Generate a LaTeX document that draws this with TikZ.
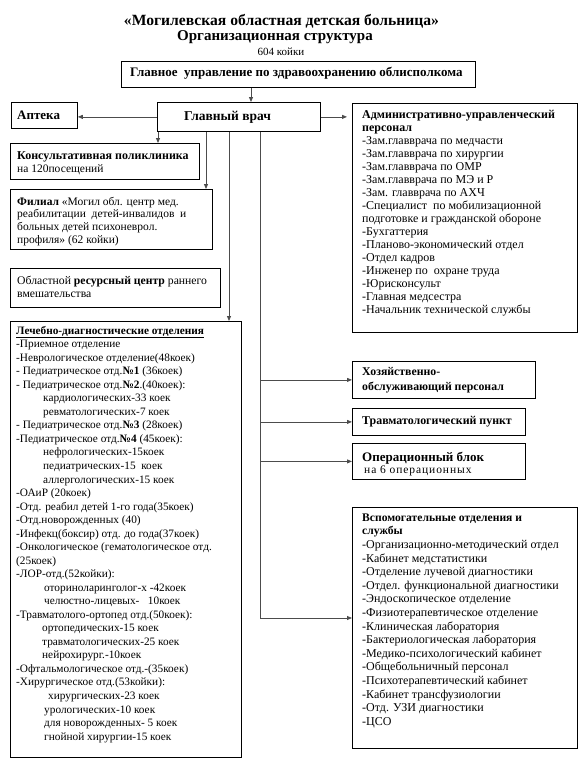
\documentclass[tikz,border=0pt]{standalone}
\usepackage{fontspec}
\setmainfont{Liberation Serif}
\usetikzlibrary{arrows.meta}
\begin{document}
\begin{tikzpicture}[x=1pt,y=-1pt,
  box/.style={draw=black, line width=0.8pt, inner sep=0pt, anchor=north west},
  txt/.style={inner sep=0pt, anchor=north west, align=left},
  one/.style={inner sep=0pt, anchor=base west},
  conn/.style={draw=black!70, line width=0.8pt},
  arr/.style={conn, -{Triangle[length=5pt,width=4pt]}},
]
\useasboundingbox (0,0) rectangle (588,758);
% titles
\node[inner sep=0pt, anchor=base, font=\fontsize{15.6}{17}\selectfont\bfseries] (t1) at (281.5,25) {«Могилевская областная детская больница»};
\node[inner sep=0pt, anchor=base, font=\fontsize{15}{17}\selectfont\bfseries] (t2) at (275,40) {Организационная структура};
\node[inner sep=0pt, anchor=base, font=\fontsize{11}{13}\selectfont] (t3) at (281,55) {604 койки};
% boxes
\node[box, minimum width=354pt, minimum height=26pt] (gu) at (121,61) {};
\node[box, minimum width=163pt, minimum height=29pt] (gv) at (157,102) {};
\node[box, minimum width=66pt, minimum height=26pt] (apt) at (11,102) {};
\node[box, minimum width=225pt, minimum height=229pt] (adm) at (352,103) {};
\node[box, minimum width=189pt, minimum height=36pt] (kons) at (10,143) {};
\node[box, minimum width=202pt, minimum height=60pt] (fil) at (10,189) {};
\node[box, minimum width=210pt, minimum height=39pt] (obl) at (10,268) {};
\node[box, minimum width=231pt, minimum height=436pt] (ldo) at (10,321) {};
\node[box, minimum width=183pt, minimum height=37pt] (hoz) at (352,361) {};
\node[box, minimum width=173pt, minimum height=27pt] (trav) at (352,408) {};
\node[box, minimum width=173pt, minimum height=36pt] (oper) at (352,443) {};
\node[box, minimum width=225pt, minimum height=241pt] (vsp) at (352,507) {};
% texts
\node[one, font=\fontsize{13}{14}\selectfont\bfseries] (guT) at (130,76) {Главное\ \ управление по здравоохранению облисполкома};
\node[one, font=\fontsize{13.5}{14}\selectfont\bfseries] (gvT) at (184,120) {Главный врач};
\node[one, font=\fontsize{13}{14}\selectfont\bfseries] (aptT) at (17,119) {Аптека};
\node[txt, font=\fontsize{12}{13}\selectfont] (admT) at (362,108.9) {\strut\textbf{Административно-управленческий}\\
\textbf{персонал}\\
-Зам.главврача по медчасти\\
-Зам.главврача по хирургии\\
-Зам.главврача по ОМР\\
-Зам.главврача по МЭ и Р\\
-Зам. главврача по АХЧ\\
-Специалист\ \ по мобилизационной\\
подготовке и гражданской обороне\\
-Бухгаттерия\\
-Планово-экономический отдел\\
-Отдел кадров\\
-Инженер по\ \ охране труда\\
-Юрисконсульт\\
-Главная медсестра\\
-Начальник технической службы};
\node[txt, font=\fontsize{11.5}{13}\selectfont] (konsT) at (17,149.9) {\strut{\fontsize{12}{13}\selectfont\bfseries Консультативная поликлиника}\\
на 120посещений};
\node[txt, font=\fontsize{11.5}{12.7}\selectfont] (filT) at (17,196.1) {\strut\textbf{Филиал} «Могил обл. центр мед.\\
реабилитации\ \ детей-инвалидов\ \ и\\
больных детей психоневрол.\\
профиля» (62 койки)};
\node[txt, font=\fontsize{11.7}{13}\selectfont] (oblT) at (17,274.9) {\strut Областной \textbf{ресурсный центр} раннего\\
вмешательства};
\node[txt, font=\fontsize{11.3}{13.53}\selectfont] (ldoT) at (16,324.5) {\strut\underline{\textbf{Лечебно-диагностические отделения}}\\
-Приемное отделение\\
-Неврологическое отделение(48коек)\\
- Педиатрическое отд.\textbf{№1} (36коек)\\
- Педиатрическое отд.\textbf{№2}.(40коек):\\
\hspace*{27pt}кардиологических-33 коек\\
\hspace*{27pt}ревматологических-7 коек\\
- Педиатрическое отд.\textbf{№3} (28коек)\\
-Педиатрическое отд.\textbf{№4} (45коек):\\
\hspace*{27pt}нефрологических-15коек\\
\hspace*{27pt}педиатрических-15\ \ коек\\
\hspace*{27pt}аллергологических-15 коек\\
-ОАиР (20коек)\\
-Отд. реабил детей 1-го года(35коек)\\
-Отд.новорожденных (40)\\
-Инфекц(боксир) отд. до года(37коек)\\
-Онкологическое (гематологическое отд.\\
(25коек)\\
-ЛОР-отд.(52койки):\\
\hspace*{28pt}оториноларинголог-х -42коек\\
\hspace*{28pt}челюстно-лицевых-\ \ \ 10коек\\
-Травматолого-ортопед отд.(50коек):\\
\hspace*{26pt}ортопедических-15 коек\\
\hspace*{26pt}травматологических-25 коек\\
\hspace*{26pt}нейрохирург.-10коек\\
-Офтальмологическое отд.-(35коек)\\
-Хирургическое отд.(53койки):\\
\hspace*{32pt}хирургических-23 коек\\
\hspace*{28pt}урологических-10 коек\\
\hspace*{28pt}для новорожденных- 5 коек\\
\hspace*{28pt}гнойной хирургии-15 коек};
\node[txt, font=\fontsize{11.8}{15}\selectfont\bfseries] (hozT) at (362,364.5) {\strut Хозяйственно-\\
обслуживающий персонал};
\node[one, font=\fontsize{11.9}{13}\selectfont\bfseries] (travT) at (362,424.5) {Травматологический пункт};
\node[txt, font=\fontsize{11.5}{12}\selectfont] (operT) at (362,452.1) {\strut{\fontsize{13}{12}\selectfont\bfseries Операционный блок}\\
\hspace*{2pt}{\addfontfeature{LetterSpace=8}на 6 операционных}};
\node[txt, font=\fontsize{12}{13.6}\selectfont] (vspT) at (362,511.5) {\strut{\fontsize{11.6}{13.6}\selectfont\bfseries Вспомогательные отделения и}\\
{\fontsize{11.6}{13.6}\selectfont\bfseries службы}\\
-Организационно-методический отдел\\
-Кабинет медстатистики\\
-Отделение лучевой диагностики\\
-Отдел. функциональной диагностики\\
-Эндоскопическое отделение\\
-Физиотерапевтическое отделение\\
-Клиническая лаборатория\\
-Бактериологическая лаборатория\\
-Медико-психологический кабинет\\
-Общебольничный персонал\\
-Психотерапевтический кабинет\\
-Кабинет трансфузиологии\\
-Отд. УЗИ диагностики\\
-ЦСО};
% connectors
\coordinate (c1) at (251,0);
\coordinate (c2) at (158,0);
\coordinate (c3) at (206,0);
\coordinate (c4) at (229,0);
\coordinate (vb) at (260,618);
\draw[arr] (gu.south -| c1) -- (gv.north -| c1);
\draw[arr] (gv.west) -- (gv.west -| apt.east);
\draw[arr, shorten >=5pt] (gv.east) -- (gv.east -| adm.west);
\draw[arr] (gv.south -| c2) -- (kons.north -| c2);
\draw[arr] (gv.south -| c3) -- (fil.north -| c3);
\draw[arr] (gv.south -| c4) -- (ldo.north -| c4);
\draw[arr] (gv.south -| vb) -- (vb) -- (vb -| vsp.west);
\draw[arr] (vb |- hoz.west) -- (hoz.west);
\draw[arr] (vb |- trav.west) -- (trav.west);
\draw[arr] (vb |- oper.west) -- (oper.west);
\end{tikzpicture}
\end{document}
